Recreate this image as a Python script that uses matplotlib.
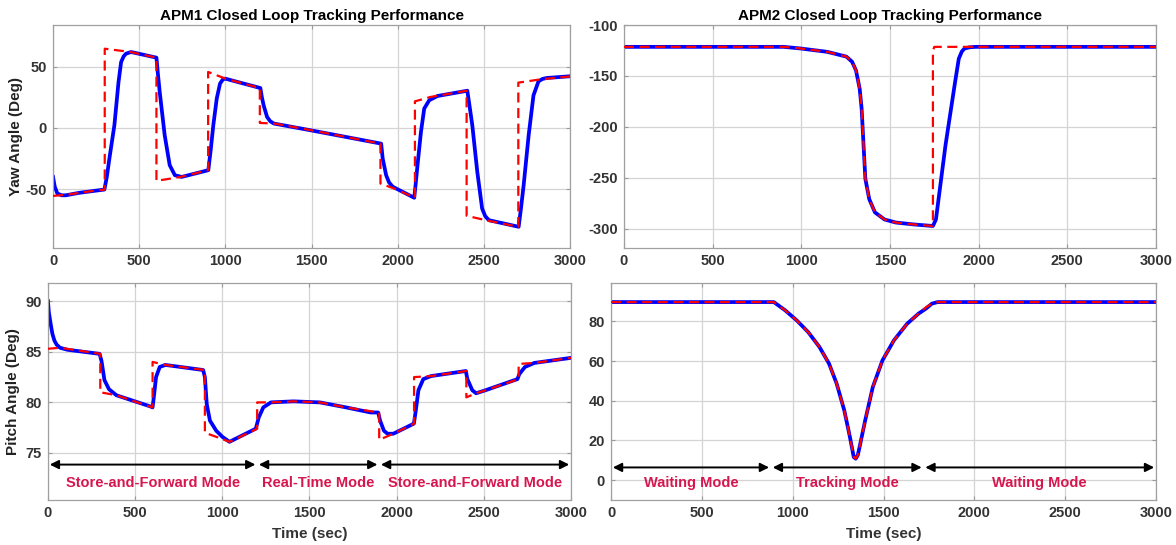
import matplotlib.pyplot as plt

plt.rcParams['font.family'] = ['Liberation Sans', 'DejaVu Sans']
plt.rcParams['font.weight'] = 'bold'
plt.rcParams['axes.unicode_minus'] = False

# APM1 yaw: reference (dashed) and measured response
yaw1_ref_t = [0, 80, 200, 300, 300, 450, 600, 600, 740, 900, 900, 1000, 1200, 1200, 1290, 1500,
              1900, 1900, 1980, 2100, 2100, 2190, 2400, 2400, 2510, 2700, 2700, 2830, 3000]
yaw1_ref = [-55.5, -54.5, -52, -50.3, 64.7, 62, 57.4, -43.2, -40, -34.5, 45.7, 40.3, 32.6, 4.1, 3.5, -1.9,
            -12.8, -45.4, -49.5, -57, 21.7, 25.3, 30.4, -71.7, -75.3, -80.7, 37, 39.7, 42.1]
yaw1_t = [0, 10, 25, 50, 74, 150, 298, 312, 327, 356, 380, 395, 410, 424, 453, 600, 608, 619, 648, 677,
          707, 746, 901, 915, 930, 950, 969, 985, 998, 1203, 1212, 1222, 1242, 1260, 1281, 1495, 1904,
          1913, 1933, 1950, 1971, 2096, 2105, 2115, 2135, 2154, 2183, 2231, 2404, 2418, 2433, 2462,
          2490, 2508, 2529, 2702, 2716, 2731, 2760, 2788, 2817, 2840, 2865, 2990, 3000]
yaw1 = [-40, -48, -53.5, -55, -55, -53, -50.3, -40, -25, 2.2, 37.5, 53.8, 58.5, 60.7, 62, 57.4, 45, 29.4,
        -6, -30.4, -38.6, -40, -34.5, -18, 2.2, 24, 36.2, 39.5, 40.3, 32.6, 25, 18.5, 9, 5.5, 3.6, -1.9,
        -12.8, -25, -38.6, -44.5, -48, -57, -45, -30.4, -3.3, 15.8, 22.6, 26.1, 30.4, 17, 2.2, -35.9,
        -65.8, -72, -75.3, -80.7, -65, -46.7, -6, 26.6, 38, 40, 40.8, 42.1, 42.2]

# APM2 yaw
yaw2_ref_t = [0, 900, 996, 1146, 1254, 1286, 1308, 1329, 1340, 1350, 1361, 1383, 1415, 1469, 1533,
              1641, 1742, 1742, 1750, 3000]
yaw2_ref = [-121.4, -121.4, -123, -126.3, -131, -136, -144.4, -162.5, -182, -215, -251, -271, -284,
            -291, -294, -296, -297.4, -125, -121.4, -121.4]
yaw2_t = [0, 900, 996, 1146, 1254, 1286, 1308, 1329, 1340, 1350, 1361, 1383, 1415, 1469, 1533, 1641,
          1742, 1759, 1813, 1867, 1888, 1905, 1920, 1950, 1985, 3000]
yaw2 = [-121.4, -121.4, -123, -126.3, -131, -136, -144.4, -162.5, -182, -215, -251, -271, -284, -291,
        -294, -296, -297.4, -291, -218, -156, -133, -126, -123, -121.8, -121.4, -121.4]

# APM1 pitch
pitch1_ref_t = [0, 70, 300, 300, 393, 600, 600, 674, 900, 900, 980, 1041, 1200, 1200, 1279, 1408, 1559,
                1711, 1900, 1900, 1981, 2100, 2100, 2197, 2400, 2400, 2456, 2510, 2700, 2700, 2790, 3000]
pitch1_ref = [85.3, 85.4, 84.8, 81.0, 80.7, 79.5, 84.0, 83.7, 83.2, 77.0, 76.5, 76.1, 77.4, 80.0, 80.0,
              80.1, 80.0, 79.5, 79.0, 76.3, 76.9, 77.9, 82.5, 82.6, 83.1, 80.5, 80.9, 81.2, 82.3, 83.8,
              83.9, 84.4]
pitch1_t = [0, 5, 15, 25, 37, 50, 69, 112, 296, 307, 324, 350, 393, 587, 600, 609, 620, 641, 674, 890,
            900, 911, 929, 965, 1000, 1041, 1192, 1209, 1235, 1279, 1408, 1559, 1711, 1851, 1894, 1905,
            1927, 1948, 1981, 2099, 2110, 2125, 2153, 2197, 2397, 2406, 2434, 2456, 2510, 2693, 2704,
            2736, 2790, 3000]
pitch1 = [90, 88.9, 87.8, 86.8, 86.1, 85.7, 85.4, 85.2, 84.8, 84.1, 82.2, 81.3, 80.7, 79.6, 79.5, 80.8,
          82.5, 83.5, 83.7, 83.2, 82.5, 79.8, 78.2, 77.2, 76.6, 76.1, 77.4, 78.5, 79.5, 80.0, 80.1, 80.0,
          79.5, 79.0, 79.0, 78.2, 77.2, 76.9, 76.9, 77.9, 79.2, 81.2, 82.3, 82.6, 83.1, 82.3, 81.2, 80.9,
          81.2, 82.3, 82.8, 83.5, 83.9, 84.4]

# APM2 pitch (reference and response overlap)
pitch2_t = [0, 896, 959, 1022, 1085, 1147, 1200, 1242, 1284, 1315, 1336, 1347, 1358, 1368, 1399, 1441,
            1494, 1557, 1630, 1693, 1735, 1766, 1798, 3000]
pitch2_ref = [89.7, 89.7, 85.5, 80.5, 74.6, 67.1, 58.7, 48.6, 35.1, 21.7, 11.6, 10.8, 12.5, 16.6, 30.1,
              46.9, 60.3, 70.4, 78.8, 83.9, 87.2, 88.9, 89.7, 89.7]
pitch2 = [89.7, 89.7, 85.5, 80.5, 74.6, 67.1, 58.7, 48.6, 35.1, 21.7, 11.6, 10.8, 12.5, 16.6, 30.1,
          46.9, 60.3, 70.4, 78.8, 83.9, 86.5, 88.9, 89.7, 89.7]

# operating modes drawn under the pitch curves
apm1_modes = [(0, 1200, 'Store-and-Forward Mode'), (1200, 1900, 'Real-Time Mode'),
              (1900, 3000, 'Store-and-Forward Mode')]
apm2_modes = [(0, 880, 'Waiting Mode'), (880, 1720, 'Tracking Mode'), (1720, 3000, 'Waiting Mode')]

fig = plt.figure(figsize=(11.76, 5.45), dpi=100)
ax1 = fig.add_axes([0.0451, 0.545, 0.4396, 0.409])
ax2 = fig.add_axes([0.5306, 0.545, 0.4524, 0.409])
ax3 = fig.add_axes([0.0408, 0.0826, 0.4447, 0.3981])
ax4 = fig.add_axes([0.5196, 0.0826, 0.4634, 0.3981])

for ax in (ax1, ax2, ax3, ax4):
    ax.set_xlim(0, 3000)
    ax.set_xticks(range(0, 3001, 500))
    ax.grid(True, color='#d4d4d4', linewidth=0.9)
    ax.set_axisbelow(True)
    ax.tick_params(direction='in', length=3, color='#999999', labelsize=10.5,
                   labelcolor='#333333', top=True, right=True, pad=4.5)
    for s in ax.spines.values():
        s.set_color('#a0a0a0')
        s.set_linewidth(0.9)
    for lab in ax.get_xticklabels() + ax.get_yticklabels():
        lab.set_fontweight('bold')

blue = dict(color='blue', lw=2.7, zorder=2)
red = dict(color='red', lw=1.6, ls=(0, (4.5, 2.5)), zorder=3)

ax1.plot(yaw1_t, yaw1, **blue)
ax1.plot(yaw1_ref_t, yaw1_ref, **red)
ax1.set_ylim(-98, 84)
ax1.set_yticks([-50, 0, 50])
ax1.set_ylabel('Yaw Angle (Deg)', fontsize=11, fontweight='bold', color='#222222', labelpad=2)
ax1.set_title('APM1 Closed Loop Tracking Performance', fontsize=11, fontweight='bold', pad=4)

ax2.plot(yaw2_t, yaw2, **blue)
ax2.plot(yaw2_ref_t, yaw2_ref, **red)
ax2.set_ylim(-319, -100)
ax2.set_yticks([-300, -250, -200, -150, -100])
ax2.set_title('APM2 Closed Loop Tracking Performance', fontsize=11, fontweight='bold', pad=4)

ax3.plot(pitch1_t, pitch1, **blue)
ax3.plot(pitch1_ref_t, pitch1_ref, **red)
ax3.set_ylim(70.35, 91.8)
ax3.set_yticks([75, 80, 85, 90])
ax3.set_ylabel('Pitch Angle (Deg)', fontsize=11, fontweight='bold', color='#222222', labelpad=4)
ax3.set_xlabel('Time (sec)', fontsize=11, fontweight='bold', color='#333333', labelpad=5)

ax4.plot(pitch2_t, pitch2, **blue)
ax4.plot(pitch2_t, pitch2_ref, **red)
ax4.set_ylim(-10, 99.3)
ax4.set_yticks([0, 20, 40, 60, 80])
ax4.set_xlabel('Time (sec)', fontsize=11, fontweight='bold', color='#333333', labelpad=5)

mode_color = '#d6174f'
arrow = dict(arrowstyle='<|-|>', color='black', lw=1.4, mutation_scale=13,
             shrinkA=0, shrinkB=0)
for ax, modes, ya, yt in ((ax3, apm1_modes, 73.85, 72.0), (ax4, apm2_modes, 6.4, -1.5)):
    for t0, t1, name in modes:
        ax.annotate('', xy=(t1 - 10, ya), xytext=(t0 + 10, ya), arrowprops=arrow)
        ax.text((t0 + t1) / 2, yt, name, ha='center', va='center', color=mode_color,
                fontsize=10.5, fontweight='bold')

fig.savefig('out.png', dpi=100)
